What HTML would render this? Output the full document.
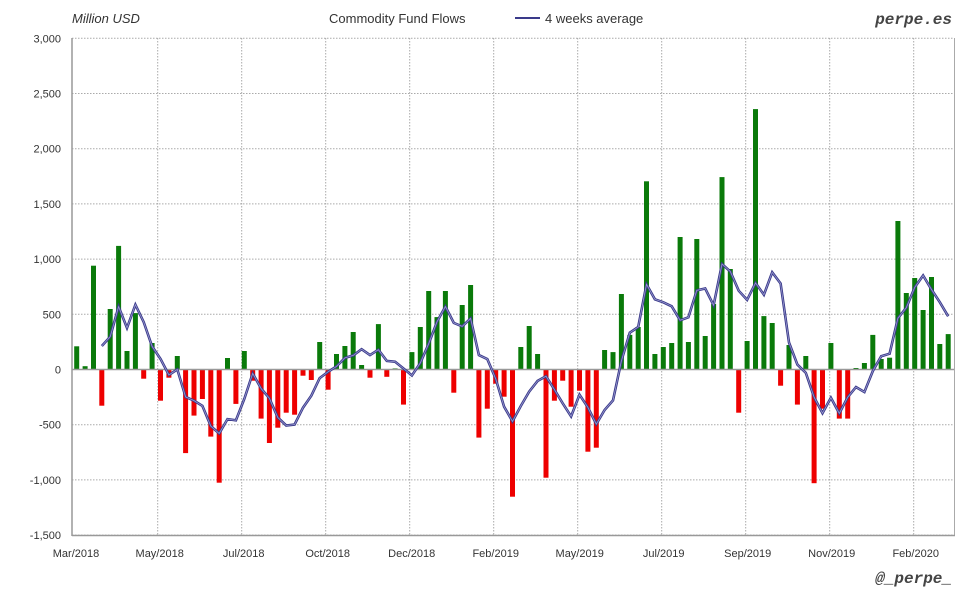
<!DOCTYPE html>
<html><head><meta charset="utf-8"><style>
body{margin:0;background:#fff;}
svg text{font-family:"Liberation Sans",sans-serif;}
</style></head><body>
<svg id="s" width="980" height="600" xmlns="http://www.w3.org/2000/svg"></svg>
<script>
const v=[210,30,940,-328,548,1120,168,511,-83,240,-283,-74,122,-757,-418,-267,-608,-1025,104,-312,168,-101,-445,-666,-527,-391,-409,-56,-95,249,-183,140,213,340,41,-74,411,-66,10,-318,158,385,711,475,711,-210,584,765,-617,-355,-129,-246,-1152,204,394,140,-980,-283,-101,-337,-192,-745,-708,177,158,684,313,385,1705,140,204,240,1200,249,1182,303,593,1743,910,-391,258,2359,484,421,-147,222,-318,122,-1030,-355,240,-445,-445,14,59,313,95,107,1345,693,829,539,838,231,321];
const Y=u=>369.5-u*0.1104, X=i=>76.7+8.38*i;
let h='';
// horizontal grid
for(let u=-1500;u<=3000;u+=500){const y=Y(u).toFixed(1);
 h+=`<line x1="72" x2="954" y1="${y}" y2="${y}" stroke="#aaa" stroke-dasharray="1.5,1.5"/>`;
 h+=`<text x="61" y="${+y+4}" font-size="11" text-anchor="end" fill="#333">${u.toLocaleString('en-US').replace('-','-')}</text>`;}
const labs=['Mar/2018','May/2018','Jul/2018','Oct/2018','Dec/2018','Feb/2019','May/2019','Jul/2019','Sep/2019','Nov/2019','Feb/2020'];
labs.forEach((l,k)=>{const x=73.7+84*k; if(k>0)h+=`<line x1="${x}" x2="${x}" y1="38" y2="535" stroke="#aaa" stroke-dasharray="1.5,1.5"/>`;
 h+=`<text x="${k==0?76:x+2}" y="557" font-size="11" text-anchor="middle" fill="#333">${l}</text>`;});
h+=`<line x1="72" x2="72" y1="38" y2="536" stroke="#999" stroke-width="1.5"/><line x1="954.5" x2="954.5" y1="38" y2="536" stroke="#aaa"/><line x1="72" x2="955" y1="535.5" y2="535.5" stroke="#999" stroke-width="1.5"/>`;
v.forEach((u,i)=>{const y0=Y(0),y1=Y(u);h+=`<rect x="${(X(i)-2.5).toFixed(1)}" y="${Math.min(y0,y1).toFixed(1)}" width="5" height="${Math.abs(y1-y0).toFixed(1)}" fill="${u>=0?'#0a7a0a':'#ee0000'}"/>`;});
h+=`<line x1="72" x2="954" y1="369.5" y2="369.5" stroke="#999" stroke-width="1.5"/>`;
let p=[];for(let i=3;i<v.length;i++){const a=(v[i]+v[i-1]+v[i-2]+v[i-3])/4;p.push(X(i).toFixed(1)+','+Y(a).toFixed(1));}
h+=`<polyline points="${p.join(' ')}" fill="none" stroke="#3a3a8a" stroke-width="2.6"/><polyline points="${p.join(' ')}" fill="none" stroke="#9a9ad0" stroke-width="0.8"/>`;
h+=`<text x="72" y="23" font-size="13" font-style="italic" fill="#333">Million USD</text>`;
h+=`<text x="329" y="23" font-size="13" fill="#333">Commodity Fund Flows</text>`;
h+=`<line x1="515" x2="540" y1="18" y2="18" stroke="#3a3a8a" stroke-width="2"/><text x="545" y="23" font-size="13" fill="#333">4 weeks average</text>`;
h+=`<text x="952" y="24" font-size="16" font-weight="bold" font-style="italic" text-anchor="end" fill="#444" font-family="Liberation Mono,monospace" style="font-family:'Liberation Mono',monospace">perpe.es</text>`;
h+=`<text x="952" y="583" font-size="16" font-weight="bold" font-style="italic" text-anchor="end" fill="#444" style="font-family:'Liberation Mono',monospace">@_perpe_</text>`;
document.getElementById('s').innerHTML=h;
</script>
</body></html>
